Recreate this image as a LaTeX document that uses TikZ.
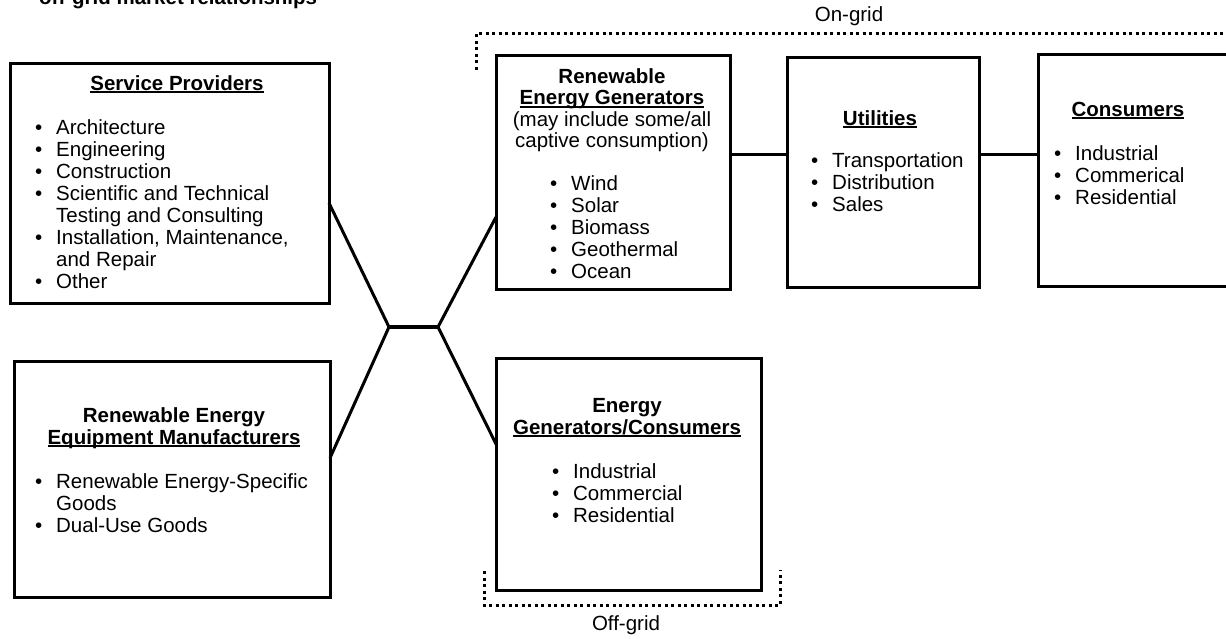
\documentclass[tikz,border=0pt]{standalone}
\usepackage{fontspec}
\setmainfont{Liberation Sans}
\usetikzlibrary{calc}

% body text size and list helpers
\newcommand\bodysize{\fontsize{20.5}{22}\selectfont}
\newcommand\headtight{\fontsize{20.5}{20}\selectfont}
\newcommand\tightsize{\fontsize{20.5}{18}\selectfont}
\newcommand\bul{\strut\makebox[21pt][l]{•}}
\newcommand\indt{\strut\hspace*{21pt}}
% underline sitting just below the baseline, crossing descenders
\newcommand\ulhead[1]{\setbox0=\hbox{#1}\rlap{\rule[-2.8pt]{\wd0}{1.6pt}}\box0}

\begin{document}
\begin{tikzpicture}[x=1pt,y=-1pt,font=\bodysize,
  box/.style={draw,line width=3pt,inner sep=0pt,outer sep=0pt},
  link/.style={line width=3pt},
  gridframe/.style={line width=3pt,dash pattern=on 3pt off 3.5pt},
  head/.style={anchor=north,align=center,inner sep=0pt,font=\bodysize\bfseries},
  list/.style={anchor=north west,align=left,inner sep=0pt}]
\useasboundingbox (0,0) rectangle (1226,639);

% caption line along the top edge
\node[anchor=base west,inner sep=0pt,font=\bodysize\bfseries] (title) at (39,5) {off-grid market relationships};

% boxes
\node[box,minimum width=319pt,minimum height=239pt] (sp)   at (169.5,183.5) {};
\node[box,minimum width=315.5pt,minimum height=236pt] (mfr) at (172.25,479) {};
\node[box,minimum width=234pt,minimum height=233pt] (re)   at (613,172.5) {};
\node[box,minimum width=192pt,minimum height=229pt] (util) at (883,172.5) {};
\node[box,minimum width=212pt,minimum height=231pt] (cons) at (1144,170.5) {};
\node[box,minimum width=264.5pt,minimum height=232pt] (egc) at (628.75,474) {};

% service providers
\node[head] (sph) at (177,74.6) {\strut\ulhead{Service Providers}};
\node[list] (spl) at (35,118.6) {\bul Architecture\\ \bul Engineering\\ \bul Construction\\
  \bul Scientific and Technical\\ \indt Testing and Consulting\\
  \bul Installation, Maintenance,\\ \indt and Repair\\ \bul Other};

% equipment manufacturers
\node[head] (mfrh) at (174,406.6) {\strut Renewable Energy\\ \strut\ulhead{Equipment Manufacturers}};
\node[list] (mfrl) at (35,472.6) {\bul Renewable Energy-Specific\\ \indt Goods\\ \bul Dual-Use Goods};

% renewable energy generators
\node[head,font=\headtight\bfseries] (reh) at (612,68.5) {\strut Renewable\\ \strut\ulhead{Energy Generators}};
\node[anchor=north,align=center,inner sep=0pt,font=\tightsize] (rep) at (612,111.5)
  {\strut(may include some/all\\ \strut captive consumption)};
\node[list] (rel) at (550,175) {\bul Wind\\ \bul Solar\\ \bul Biomass\\ \bul Geothermal\\ \bul Ocean};

% utilities
\node[head] (utilh) at (880,109.6) {\strut\ulhead{Utilities}};
\node[list] (utill) at (811,151.6) {\bul Transportation\\ \bul Distribution\\ \bul Sales};

% consumers
\node[head] (consh) at (1128,100.6) {\strut\ulhead{Consumers}};
\node[list] (consl) at (1054,144.6) {\bul Industrial\\ \bul Commerical\\ \bul Residential};

% energy generators / consumers
\node[head] (egch) at (627,396.6) {\strut Energy\\ \strut\ulhead{Generators/Consumers}};
\node[list] (egcl) at (552,462.6) {\bul Industrial\\ \bul Commercial\\ \bul Residential};

% hub joining the four groups
\coordinate (hubL) at (389,327);
\coordinate (hubR) at (438,327);
\draw[link,line width=3.5pt] (hubL) -- (hubR);
\draw[link] (sp.east |- 0,203) -- (hubL);
\draw[link] (mfr.east |- 0,458) -- (hubL);
\draw[link] (re.west |- 0,217) -- (hubR);
\draw[link] (egc.west |- 0,445) -- (hubR);

% on-grid chain
\draw[link] (re.east |- 0,155) -- (util.west |- 0,155);
\draw[link] (util.east |- 0,155) -- (cons.west |- 0,155);

% on-grid / off-grid brackets
\draw[gridframe] (476,70) -- (476,34) -- (1232,34);
\node[anchor=base,inner sep=0pt] (ongrid) at (849,22) {On-grid};
\draw[gridframe] (484,571) -- (484,605) -- (780,605) -- (780,570);
\node[anchor=base,inner sep=0pt] (offgrid) at (626,630) {Off-grid};
\end{tikzpicture}
\end{document}
